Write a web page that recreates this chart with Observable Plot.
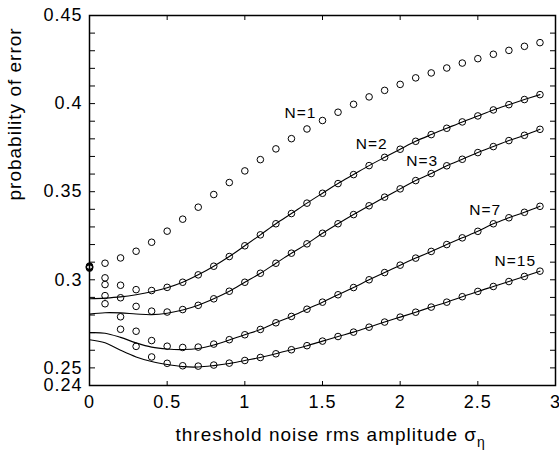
<!DOCTYPE html>
<html>
<head>
<meta charset="utf-8">
<script src="https://cdn.jsdelivr.net/npm/d3@7"></script>
<script src="https://cdn.jsdelivr.net/npm/@observablehq/plot@0.6"></script>
<style>
  html, body { margin: 0; padding: 0; background: white; }
  #chart { width: 559px; height: 450px; overflow: hidden; }
</style>
</head>
<body>
<div id="chart"></div>
<script>
// ---- data ----
const sigma = [0, 0.1, 0.2, 0.3, 0.4, 0.5, 0.6, 0.7, 0.8, 0.9,
               1.0, 1.1, 1.2, 1.3, 1.4, 1.5, 1.6, 1.7, 1.8, 1.9,
               2.0, 2.1, 2.2, 2.3, 2.4, 2.5, 2.6, 2.7, 2.8, 2.9];

const seriesNames = ["N=1", "N=2", "N=3", "N=7", "N=15"];

// simulated points (circles)
const simN1 = [0.3078, 0.3094, 0.3124, 0.3162, 0.3213, 0.3276, 0.3344, 0.3412, 0.3484, 0.3552,
               0.3618, 0.3682, 0.3743, 0.3801, 0.3856, 0.3904, 0.3951, 0.3996, 0.4038, 0.4075,
               0.4109, 0.4146, 0.4174, 0.4202, 0.4230, 0.4255, 0.4280, 0.4302, 0.4325, 0.4346];
const simN2 = [0.3075, 0.3011, 0.2969, 0.2944, 0.2939, 0.2957, 0.2986, 0.3028, 0.3077, 0.3132,
               0.3193, 0.3255, 0.3318, 0.3376, 0.3435, 0.3491, 0.3546, 0.3597, 0.3648, 0.3695,
               0.3741, 0.3786, 0.3824, 0.3860, 0.3896, 0.3930, 0.3964, 0.3994, 0.4023, 0.4051];
const simN3 = [0.3072, 0.2973, 0.2898, 0.2849, 0.2822, 0.2817, 0.2831, 0.2855, 0.2892, 0.2935,
               0.2986, 0.3037, 0.3094, 0.3151, 0.3204, 0.3264, 0.3318, 0.3370, 0.3420, 0.3469,
               0.3516, 0.3563, 0.3603, 0.3647, 0.3684, 0.3722, 0.3756, 0.3790, 0.3820, 0.3854];
const simN7 = [0.3069, 0.2910, 0.2790, 0.2708, 0.2655, 0.2623, 0.2616, 0.2618, 0.2635, 0.2660,
               0.2688, 0.2718, 0.2756, 0.2792, 0.2833, 0.2873, 0.2915, 0.2956, 0.3000, 0.3041,
               0.3083, 0.3123, 0.3161, 0.3200, 0.3238, 0.3275, 0.3318, 0.3352, 0.3383, 0.3417];
const simN15 = [0.3066, 0.2864, 0.2719, 0.2622, 0.2562, 0.2526, 0.2512, 0.2510, 0.2516, 0.2527,
                0.2542, 0.2559, 0.2580, 0.2603, 0.2626, 0.2652, 0.2678, 0.2703, 0.2731, 0.2760,
                0.2788, 0.2816, 0.2845, 0.2873, 0.2904, 0.2934, 0.2962, 0.2990, 0.3019, 0.3049];

// theory curves (solid lines), N = 2, 3, 7, 15
const thN2 = [0.2892, 0.2896, 0.2903, 0.2915, 0.2932, 0.2955, 0.2986, 0.3028, 0.3077, 0.3132,
              0.3193, 0.3255, 0.3318, 0.3376, 0.3435, 0.3491, 0.3546, 0.3597, 0.3648, 0.3695,
              0.3741, 0.3786, 0.3824, 0.3860, 0.3896, 0.3930, 0.3964, 0.3994, 0.4023, 0.4051];
const thN3 = [0.2805, 0.2813, 0.2812, 0.2806, 0.2802, 0.2810, 0.2828, 0.2855, 0.2892, 0.2935,
              0.2986, 0.3037, 0.3094, 0.3151, 0.3204, 0.3264, 0.3318, 0.3370, 0.3420, 0.3469,
              0.3516, 0.3563, 0.3603, 0.3647, 0.3684, 0.3722, 0.3756, 0.3790, 0.3820, 0.3854];
const thN7 = [0.2700, 0.2697, 0.2673, 0.2642, 0.2618, 0.2607, 0.2604, 0.2610, 0.2630, 0.2658,
              0.2688, 0.2718, 0.2756, 0.2792, 0.2833, 0.2873, 0.2915, 0.2956, 0.3000, 0.3041,
              0.3083, 0.3123, 0.3161, 0.3200, 0.3238, 0.3275, 0.3318, 0.3352, 0.3383, 0.3417];
const thN15 = [0.2660, 0.2643, 0.2600, 0.2562, 0.2536, 0.2519, 0.2507, 0.2505, 0.2513, 0.2525,
               0.2542, 0.2559, 0.2580, 0.2603, 0.2626, 0.2652, 0.2678, 0.2703, 0.2731, 0.2760,
               0.2788, 0.2816, 0.2845, 0.2873, 0.2904, 0.2934, 0.2962, 0.2990, 0.3019, 0.3049];

// curve labels (data coordinates)
const labelText = ["N=1", "N=2", "N=3", "N=7", "N=15"];
const labelX = [1.358, 1.817, 2.142, 2.548, 2.741];
const labelY = [0.3949, 0.3771, 0.3674, 0.3396, 0.3105];

// ticks
const xTickLabels = [0, 0.5, 1, 1.5, 2, 2.5, 3];
const yTickLabels = [0.24, 0.25, 0.3, 0.35, 0.4, 0.45];
const yMinorTicks = [0.24, 0.25, 0.26, 0.27, 0.28, 0.29, 0.30, 0.31, 0.32, 0.33, 0.34,
                     0.35, 0.36, 0.37, 0.38, 0.39, 0.40, 0.41, 0.42, 0.43, 0.44, 0.45];

const xLabel = "threshold noise rms amplitude \u03C3";
const xLabelSub = "\u03B7";
const yLabel = "probability of error";

// ---- build tables ----
const simSeries = [simN1, simN2, simN3, simN7, simN15];
const simRows = simSeries.flatMap((arr, s) => arr.map((p, i) => ({sigma: sigma[i], p, series: seriesNames[s]})));
const thSeries = [thN2, thN3, thN7, thN15];
const thNames = ["N=2", "N=3", "N=7", "N=15"];
const thRows = thSeries.flatMap((arr, s) => arr.map((p, i) => ({sigma: sigma[i], p, series: thNames[s]})));
const labelRows = labelText.map((t, i) => ({t, x: labelX[i], y: labelY[i]}));

const FONT = "'Liberation Sans', Arial, Helvetica, sans-serif";

const chart = Plot.plot({
  width: 559,
  height: 450,
  marginLeft: 89,
  marginRight: 4,
  marginTop: 15,
  marginBottom: 65,
  style: {fontFamily: FONT, background: "white", color: "black"},
  x: {domain: [0, 3], label: null},
  y: {domain: [0.24, 0.45], label: null},
  marks: [
    // inward ticks
    Plot.axisY(yMinorTicks, {anchor: "right", frameAnchor: "left", tickSize: 5, tickFormat: () => "", label: null, strokeWidth: 1}),
    Plot.axisY(yMinorTicks, {anchor: "left", frameAnchor: "right", tickSize: 5, tickFormat: () => "", label: null, strokeWidth: 1}),
    Plot.axisX(xTickLabels, {anchor: "top", frameAnchor: "bottom", tickSize: 5, tickFormat: () => "", label: null, strokeWidth: 1}),
    Plot.axisX(xTickLabels, {anchor: "bottom", frameAnchor: "top", tickSize: 5, tickFormat: () => "", label: null, strokeWidth: 1}),
    // tick labels
    Plot.axisY(yTickLabels, {anchor: "left", tickSize: 0, tickPadding: 7, fontSize: 18, tickFormat: d => String(d), label: null}),
    Plot.axisX(xTickLabels, {anchor: "bottom", tickSize: 0, tickPadding: 10, fontSize: 18, tickFormat: d => String(d), label: null}),
    Plot.frame({stroke: "black", strokeWidth: 1.5}),
    // curves
    Plot.line(thRows, {x: "sigma", y: "p", z: "series", stroke: "black", strokeWidth: 1.1, curve: "catmull-rom"}),
    Plot.dot(simRows, {x: "sigma", y: "p", r: 3.3, stroke: "black", fill: "none", strokeWidth: 1}),
    Plot.text(labelRows, {x: "x", y: "y", text: "t", fontSize: 15.5, fill: "black"}),
    // axis titles
    Plot.text([xLabel], {frameAnchor: "bottom-left", dx: 86, dy: 55, lineAnchor: "bottom", textAnchor: "start", fontSize: 19, fill: "black"}),
    Plot.text([yLabel], {frameAnchor: "left", dx: -75, rotate: -90, fontSize: 19, fill: "black"})
  ]
});

chart.style.letterSpacing = "1px";
// subscript eta on the x label
for (const t of chart.querySelectorAll("text")) {
  if (t.textContent === xLabel) {
    const ts = document.createElementNS("http://www.w3.org/2000/svg", "tspan");
    ts.textContent = xLabelSub;
    ts.setAttribute("dy", "6");
    ts.setAttribute("font-size", "14");
    t.appendChild(ts);
  }
}
document.getElementById("chart").appendChild(chart);
</script>
</body>
</html>
